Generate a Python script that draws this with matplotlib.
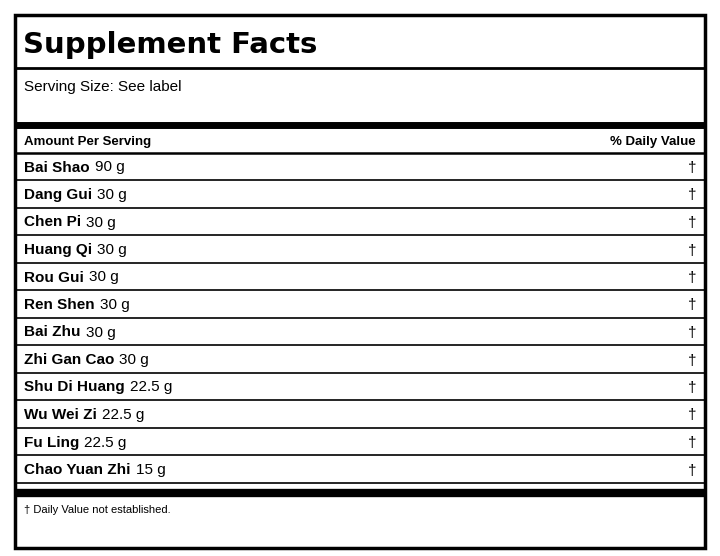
import matplotlib
matplotlib.use("Agg")
import matplotlib.pyplot as plt

title = "Supplement Facts"
serving = "Serving Size: See label"
header_left = "Amount Per Serving"
header_right = "% Daily Value"
names = ["Bai Shao", "Dang Gui", "Chen Pi", "Huang Qi", "Rou Gui", "Ren Shen", "Bai Zhu",
         "Zhi Gan Cao", "Shu Di Huang", "Wu Wei Zi", "Fu Ling", "Chao Yuan Zhi"]
amounts = ["90 g", "30 g", "30 g", "30 g", "30 g", "30 g", "30 g", "30 g", "22.5 g", "22.5 g", "22.5 g", "15 g"]
footnote = "† Daily Value not established."

plt.rcParams['font.family'] = ['Liberation Sans', 'DejaVu Sans']
fig = plt.figure(figsize=(7.2, 5.56), dpi=100)
ax = fig.add_axes([0, 0, 1, 1])
ax.set_xlim(0, 720); ax.set_ylim(556, 0); ax.axis('off')

L, R = 15, 705
ax.add_patch(plt.Rectangle((L, 15), R - L, 533, fill=False, lw=2.5, ec='black'))
def hline(y, lw):
    ax.plot([L, R], [y, y], color='black', lw=lw, solid_capstyle='butt')

ax.text(23, 45, title, fontsize=21, fontweight='bold', va='center', ha='left', family='DejaVu Sans')
hline(68, 2)
ax.text(24, 87, serving, fontsize=11, va='center')
hline(124.5, 5)
ax.text(24, 141.5, header_left, fontsize=9.5, fontweight='bold', va='center')
ax.text(696, 141.5, header_right, fontsize=9.5, fontweight='bold', va='center', ha='right')
hline(152.5, 1.8)

fig.canvas.draw()
r = fig.canvas.get_renderer()
row_h = 27.5
for i, (n, a) in enumerate(zip(names, amounts)):
    yc = 166 + i * row_h
    t = ax.text(24, yc + 1.5, n, fontsize=11, fontweight='bold', va='center')
    bb = t.get_window_extent(renderer=r)
    ax.text(bb.x1 + 5, yc + 1.5, a, fontsize=11, va='center')
    ax.text(696, yc + 2, "†", fontsize=11, va='center', ha='right')
    hline(yc + 14, 1.2)
hline(492.5, 6)
ax.text(24, 510, footnote, fontsize=8, va='center')
fig.savefig("out.png", dpi=100)
